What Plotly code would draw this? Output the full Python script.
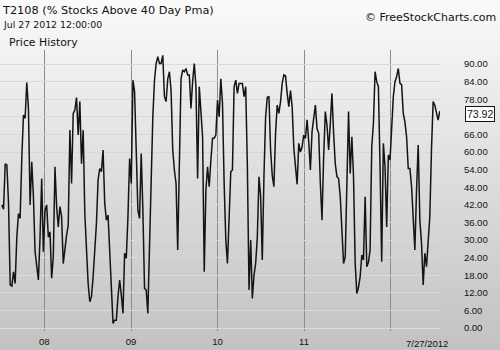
import pandas as pd
import plotly.graph_objects as go

# ---------------- data ----------------
end_date = "2012-07-27"
values = [
    # mid 2007 - early 2008
    42, 40.5, 56, 55.6, 42.5, 14.7, 14.3, 19.2, 15.2, 31, 39, 37.4, 58, 72.6, 71.5,
    83.7, 75, 42, 56.7, 44.8, 26, 22, 16.4, 31, 51, 26, 40, 42, 31, 32.8, 17, 24.3,
    55, 41.4, 34.5, 41.4, 38, 22, 27.7, 31.7, 35, 67.5, 49.3, 73.2, 74.3, 78.6, 65.8,
    77.2, 56, 67.5, 39, 26.6, 15.2, 9,
    # 2008 - 2009
    10.7, 17.5, 26.6, 35.7, 50.5, 54.4, 53.3, 60.7, 42.5, 36.8, 38.5, 26.6, 13, 1.6,
    2.7, 2.7, 10.7, 16.4, 11.3, 5, 25.5, 23.8, 38, 57.8, 49.3, 84.5, 80.6, 60.7, 40.2,
    37.4, 59.5, 40.2, 13.5, 13, 5, 27.7, 55, 72, 84.5, 90.2, 92.5, 90.2, 90.2, 93,
    78.9, 77.2, 85, 87.4, 81, 60.7, 53.9,
    # 2009 - 2010
    49.3, 26.6, 60.7, 85, 88, 87.4, 88.5, 86.3, 86.3, 74.9, 84, 90.2, 82.3, 51, 82.3,
    74.3, 65.2, 19.2, 47, 55, 48.2, 57.3, 64.7, 64.7, 65.8, 77.7, 72, 85, 76.6, 49.3,
    30, 22, 38, 53.3, 53.9, 82.3, 84.5, 80, 83.4, 83.4, 83.4, 78.9, 82.3, 55, 13, 30,
    10.1, 18, 22, 31, 51.6, 44.8,
    # 2010 - 2011
    23.2, 51.6, 72, 78.6, 79, 60.7, 52, 48.2, 66.4, 76, 73.2, 77.2, 83.4, 86.3, 86,
    80, 75.5, 81, 75.5, 61.3, 55, 49, 63, 60, 61.8, 65.8, 64.7, 71, 63.5, 53.9, 67,
    71, 76, 68, 66.4, 49.3, 36.8, 58.4, 73.8, 69.2, 60.7, 69.8, 80, 66.4, 56, 51.6,
    51, 44.8, 31, 22, 24.3,
    # 2011 - 2012
    53.9, 73.8, 52.7, 65.2, 51.6, 22, 11.8, 13.9, 17.5, 24.9, 23.2, 44.8, 20.9, 22.4,
    26.6, 61.8, 69.8, 87.4, 84, 82.3, 55, 22.6, 63, 55, 34.5, 59, 57.3, 69.8, 78.9,
    84, 85.7, 88.5, 83.4, 83, 73.2, 70.3, 65.2, 54.4, 54.4, 48.2, 35.7, 26.6, 47,
    62.4, 36.8, 28.9, 14.7, 25.5, 20.9, 31, 38, 60.7, 77.2, 76, 73.2, 70.9, 73.92,
]
dates = pd.date_range(end=end_date, periods=len(values), freq="7D")

year_ticks = ["2008-01-01", "2009-01-01", "2010-01-01", "2011-01-01", "2012-01-01"]
year_labels = ["08", "09", "10", "11", ""]
y_ticks = list(range(0, 91, 6))
last_value = values[-1]
last_label = "7/27/2012"
# the tick label hidden behind the last-value marker box
y_labels = ["" if abs(v - last_value) < 3 else f"{v:.2f}" for v in y_ticks]

title_text = "T2108 (% Stocks Above 40 Day Pma)"
date_text = "Jul 27 2012 12:00:00"
panel_text = "Price History"
credit_text = "\u00a9 FreeStockCharts.com"

# ---------------- layout geometry (pixels) ----------------
W, H = 500, 350
L, R, T, B = 0, 60, 50, 19
PW, PH = W - L - R, H - T - B


def px_x(p):
    return (p - L) / PW


def px_y(p):
    return (H - B - p) / PH


fig = go.Figure()
fig.add_trace(go.Scatter(x=dates, y=values, mode="lines",
                         line=dict(color="#141414", width=1.5),
                         hoverinfo="skip", showlegend=False))

# vertical gradient background (white -> gray)
shapes = []
n = 70
for i in range(n):
    p0 = i * H / n
    p1 = (i + 1) * H / n
    c = int(round(250 - ((p0 + p1) / 2) / H * 56))
    shapes.append(dict(type="rect", xref="paper", yref="paper",
                       x0=px_x(0), x1=px_x(W), y0=px_y(p1 + 0.5), y1=px_y(p0),
                       fillcolor=f"rgb({c},{c},{c})", line=dict(width=0),
                       layer="below"))

tickfont = dict(family="Liberation Sans", size=9.5, color="#111")
txtfont = dict(family="DejaVu Sans", color="#111")

annotations = [
    dict(text=title_text, xref="paper", yref="paper", x=px_x(0), y=px_y(10),
         xanchor="left", yanchor="middle", showarrow=False,
         font=dict(size=11.3, **txtfont)),
    dict(text=date_text, xref="paper", yref="paper", x=px_x(1), y=px_y(25),
         xanchor="left", yanchor="middle", showarrow=False,
         font=dict(size=9.4, **txtfont)),
    dict(text=panel_text, xref="paper", yref="paper", x=px_x(7), y=px_y(43),
         xanchor="left", yanchor="middle", showarrow=False,
         font=dict(size=10.9, **txtfont)),
    dict(text=credit_text, xref="paper", yref="paper", x=px_x(498), y=px_y(17),
         xanchor="right", yanchor="middle", showarrow=False,
         font=dict(size=11, **txtfont)),
    dict(text=last_label, xref="paper", yref="paper", x=px_x(427), y=px_y(343),
         xanchor="center", yanchor="middle", showarrow=False, font=tickfont),
    dict(text=f"{last_value:.2f}", xref="paper", yref="y", x=px_x(480), y=last_value,
         yshift=-3, xanchor="center", yanchor="middle", showarrow=False,
         bgcolor="white", bordercolor="#111", borderwidth=1, borderpad=1,
         font=dict(family="Liberation Sans", size=10.5, color="#111")),
]

fig.update_layout(
    width=W, height=H,
    margin=dict(l=L, r=R, t=T, b=B, pad=0),
    paper_bgcolor="rgb(200,200,200)",
    plot_bgcolor="rgba(0,0,0,0)",
    shapes=shapes,
    annotations=annotations,
    showlegend=False,
    xaxis=dict(
        range=["2007-06-28", "2012-07-28"],
        tickvals=year_ticks, ticktext=year_labels,
        showgrid=True, gridcolor="#8c8c8c", gridwidth=1,
        ticks="outside", ticklen=2, tickcolor="rgba(0,0,0,0)",
        tickfont=tickfont, zeroline=False, showline=False,
        automargin=False, fixedrange=True,
    ),
    yaxis=dict(
        side="right", range=[-1.0, 94.8],
        tickvals=y_ticks, ticktext=y_labels,
        showgrid=True, gridcolor="#d9d9d9", gridwidth=1,
        ticks="outside", ticklen=21, tickcolor="rgba(0,0,0,0)",
        tickfont=tickfont, zeroline=False, showline=False,
        automargin=False, fixedrange=True,
    ),
)

fig.write_html("out.html")
